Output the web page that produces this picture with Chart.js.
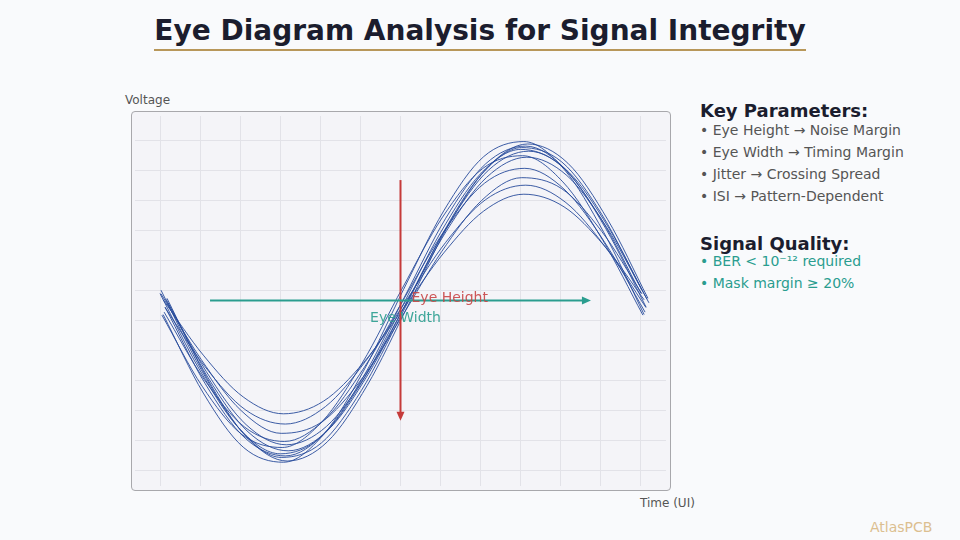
<!DOCTYPE html>
<html>
<head>
<meta charset="utf-8">
<script src="https://cdn.jsdelivr.net/npm/chart.js@4.4.1/dist/chart.umd.min.js"></script>
<style>
  body { margin: 0; width: 960px; height: 540px; background: #f9fafc; font-family: "DejaVu Sans", sans-serif; position: relative; overflow: hidden; }
  .title { position: absolute; left: 0; width: 960px; top: 14px; text-align: center; }
  .title span { font-size: 28px; font-weight: bold; color: #1b1d2e; border-bottom: 2px solid #b8975a; padding-bottom: 2px; }
  .plotbox { position: absolute; left: 131px; top: 111px; width: 538px; height: 378px; background: #f4f4f8; border: 1px solid #a8a8ac; border-radius: 4px; }
  .chartwrap { position: absolute; left: 131px; top: 111px; width: 540px; height: 380px; }
  .axlab { position: absolute; font-size: 12px; color: #555; }
  .panel { position: absolute; left: 700px; top: 99px; }
  .panel h3 { margin: 0 0 -4px 0; font-size: 18px; font-weight: bold; color: #1b1d2e; line-height: 24px; }
  .panel div { font-size: 14px; color: #555; line-height: 22px; }
  .panel .ok { color: #2a9d8f; }
  .brand { position: absolute; left: 870px; top: 519px; font-size: 14px; color: #dcbf90; }
</style>
</head>
<body>
<div class="title"><span>Eye Diagram Analysis for Signal Integrity</span></div>
<div class="axlab" style="left:125px; top:93px;">Voltage</div>
<div class="axlab" style="left:640px; top:496px;">Time (UI)</div>
<div class="plotbox"></div>
<div class="chartwrap"><canvas id="eyeChart"></canvas></div>
<div class="panel">
  <h3>Key Parameters:</h3>
  <div>• Eye Height → Noise Margin</div>
  <div>• Eye Width → Timing Margin</div>
  <div>• Jitter → Crossing Spread</div>
  <div>• ISI → Pattern-Dependent</div>
  <h3 style="margin-top:25px; margin-bottom:-6px;">Signal Quality:</h3>
  <div class="ok">• BER &lt; 10⁻¹² required</div>
  <div class="ok">• Mask margin ≥ 20%</div>
</div>
<div class="brand">AtlasPCB</div>
<script>
// sample times (UI) shared by every trace
const timeUI = [0, 0.167, 0.333, 0.5, 0.667, 0.833, 1, 1.167, 1.333, 1.5, 1.667, 1.833, 2];
// per-trace start offset (UI)
const jitterUI = [0.013, 0.029, 0.004, 0.021, 0, 0.033, 0.008, 0.025, 0.017, 0.004, 0.021, 0.013];
// voltage of each captured trace (V)
const traces = [
  [-0.030, -0.291, -0.471, -0.521, -0.429, -0.218, 0.054, 0.315, 0.495, 0.545, 0.453, 0.242, -0.030],
  [0.024, -0.242, -0.439, -0.517, -0.453, -0.265, -0.004, 0.262, 0.459, 0.537, 0.473, 0.285, 0.024],
  [0.051, -0.213, -0.416, -0.505, -0.457, -0.283, -0.031, 0.233, 0.436, 0.525, 0.477, 0.303, 0.051],
  [-0.005, -0.260, -0.441, -0.500, -0.421, -0.225, 0.035, 0.290, 0.471, 0.530, 0.451, 0.255, -0.005],
  [0.040, -0.217, -0.412, -0.493, -0.439, -0.263, -0.014, 0.243, 0.438, 0.519, 0.465, 0.289, 0.040],
  [0.009, -0.240, -0.420, -0.483, -0.413, -0.228, 0.022, 0.270, 0.450, 0.513, 0.443, 0.258, 0.009],
  [-0.032, -0.268, -0.429, -0.472, -0.385, -0.191, 0.058, 0.294, 0.455, 0.498, 0.411, 0.217, -0.032],
  [0.021, -0.219, -0.396, -0.463, -0.402, -0.229, 0.009, 0.249, 0.426, 0.493, 0.432, 0.259, 0.021],
  [-0.022, -0.246, -0.403, -0.452, -0.380, -0.205, 0.026, 0.250, 0.407, 0.456, 0.384, 0.209, -0.022],
  [0.039, -0.179, -0.349, -0.425, -0.388, -0.246, -0.039, 0.179, 0.349, 0.425, 0.388, 0.246, 0.039],
  [-0.007, -0.204, -0.346, -0.394, -0.336, -0.186, 0.013, 0.210, 0.352, 0.400, 0.342, 0.192, -0.007],
  [0.019, -0.165, -0.304, -0.360, -0.318, -0.190, -0.009, 0.175, 0.314, 0.370, 0.328, 0.200, 0.019]
];
// grid positions
const xGrid = [0, 0.167, 0.333, 0.5, 0.667, 0.833, 1, 1.167, 1.333, 1.5, 1.667, 1.833, 2];
const yGrid = [-0.55, -0.45, -0.35, -0.25, -0.15, -0.05, 0.05, 0.15, 0.25, 0.35, 0.45, 0.55];
// annotation arrows
const eyeHeight = [1.0, 0.417, -0.383];   // time, top, bottom
const eyeWidth = [0.017, 0.208, 1.792];   // voltage, start, end

const datasets = traces.map((vals, k) => ({
  data: vals.map((v, i) => ({ x: timeUI[i] + jitterUI[k], y: v })),
  showLine: true,
  borderColor: 'rgba(40, 75, 155, 0.9)',
  borderWidth: 1,
  pointRadius: 0,
  cubicInterpolationMode: 'monotone'
}));

function arrowHead(ctx, x, y, dir, color) {
  ctx.fillStyle = color;
  ctx.beginPath();
  if (dir === 'down') {
    ctx.moveTo(x - 4, y - 9); ctx.lineTo(x + 4, y - 9); ctx.lineTo(x, y);
  } else {
    ctx.moveTo(x - 9, y - 4); ctx.lineTo(x - 9, y + 4); ctx.lineTo(x, y);
  }
  ctx.closePath();
  ctx.fill();
}

const eyeArrows = {
  id: 'eyeArrows',
  afterDatasetsDraw(chart) {
    const { ctx, scales: { x, y } } = chart;
    const red = '#c53a3a', teal = '#2a9d8f';
    ctx.save();
    // eye height
    const hx = x.getPixelForValue(eyeHeight[0]);
    const hTop = y.getPixelForValue(eyeHeight[1]);
    const hBot = y.getPixelForValue(eyeHeight[2]);
    ctx.strokeStyle = red; ctx.lineWidth = 2;
    ctx.beginPath(); ctx.moveTo(hx, hTop); ctx.lineTo(hx, hBot - 6); ctx.stroke();
    arrowHead(ctx, hx, hBot, 'down', red);
    // eye width
    const wy = y.getPixelForValue(eyeWidth[0]);
    const wL = x.getPixelForValue(eyeWidth[1]);
    const wR = x.getPixelForValue(eyeWidth[2]);
    ctx.strokeStyle = teal;
    ctx.beginPath(); ctx.moveTo(wL, wy); ctx.lineTo(wR - 6, wy); ctx.stroke();
    arrowHead(ctx, wR, wy, 'right', teal);
    ctx.font = '14px "DejaVu Sans"';
    ctx.textBaseline = 'middle';
    ctx.textAlign = 'left';
    ctx.fillStyle = 'rgba(200, 70, 70, 0.9)';
    ctx.fillText('Eye Height', hx + 11, wy - 2);
    ctx.fillStyle = 'rgba(42, 157, 143, 0.9)';
    ctx.textAlign = 'center';
    ctx.fillText('Eye Width', hx + 5, wy + 18);
    ctx.restore();
  }
};

new Chart(document.getElementById('eyeChart'), {
  type: 'scatter',
  data: { datasets },
  options: {
    responsive: true,
    maintainAspectRatio: false,
    animation: false,
    layout: { padding: { left: 4, right: 5, top: 5, bottom: 5 } },
    plugins: { legend: { display: false }, tooltip: { enabled: false } },
    scales: {
      x: {
        type: 'linear', min: -0.104, max: 2.104,
        afterBuildTicks: axis => { axis.ticks = xGrid.map(v => ({ value: v })); },
        ticks: { display: false },
        grid: { color: '#e2e2e8', drawTicks: false },
        border: { display: false }
      },
      y: {
        type: 'linear', min: -0.6, max: 0.63,
        afterBuildTicks: axis => { axis.ticks = yGrid.map(v => ({ value: v })); },
        ticks: { display: false },
        grid: { color: '#e2e2e8', drawTicks: false },
        border: { display: false }
      }
    }
  },
  plugins: [eyeArrows]
});
</script>
</body>
</html>
